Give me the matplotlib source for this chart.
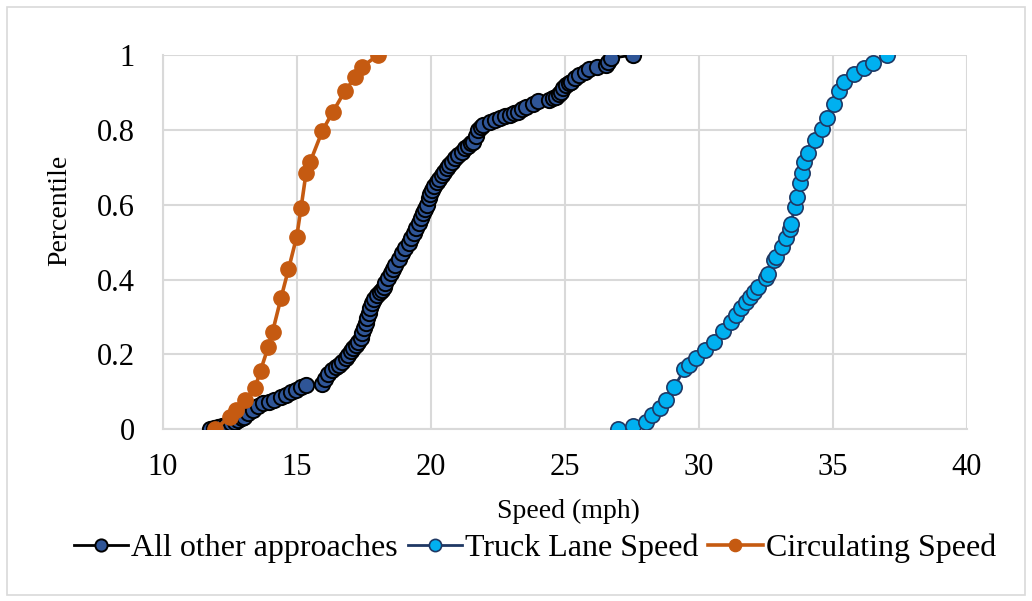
import matplotlib.pyplot as plt
from matplotlib.patches import Rectangle

# speed distributions (mph) and their cumulative percentile
other_speed = [11.76, 11.90, 12.06, 12.20, 12.37, 12.56, 12.70, 12.81, 12.95, 13.05,
               13.20, 13.36, 13.55, 13.73, 13.98, 14.17, 14.42, 14.60, 14.79, 14.97,
               15.16, 15.34, 15.96, 16.05, 16.15, 16.30, 16.45, 16.58, 16.70, 16.83,
               16.92, 17.01, 17.10, 17.20, 17.28, 17.38, 17.45, 17.52, 17.57, 17.63,
               17.69, 17.75, 17.81, 17.90, 18.00, 18.10, 18.19, 18.25, 18.31, 18.40,
               18.50, 18.58, 18.68, 18.80, 18.93, 19.05, 19.18, 19.27, 19.36, 19.45,
               19.55, 19.64, 19.73, 19.80, 19.86, 19.92, 19.98, 20.04, 20.13, 20.23,
               20.32, 20.41, 20.50, 20.60, 20.69, 20.78, 20.90, 21.03, 21.15, 21.28,
               21.40, 21.52, 21.59, 21.68, 21.77, 21.86, 21.96, 22.21, 22.40, 22.58,
               22.76, 22.95, 23.10, 23.26, 23.40, 23.57, 23.80, 24.00, 24.43, 24.55,
               24.68, 24.78, 24.86, 24.95, 25.05, 25.15, 25.24, 25.40, 25.55, 25.75,
               25.92, 26.20, 26.53, 26.62, 26.72, 27.56]
other_pct = [0.000, 0.003, 0.007, 0.009, 0.011, 0.016, 0.020, 0.025, 0.030, 0.034,
             0.043, 0.052, 0.061, 0.069, 0.074, 0.078, 0.087, 0.092, 0.100, 0.105,
             0.114, 0.118, 0.122, 0.135, 0.148, 0.158, 0.166, 0.172, 0.181, 0.190,
             0.199, 0.208, 0.216, 0.225, 0.234, 0.245, 0.256, 0.270, 0.283, 0.297,
             0.310, 0.323, 0.337, 0.348, 0.359, 0.366, 0.372, 0.381, 0.390, 0.404,
             0.417, 0.428, 0.439, 0.455, 0.470, 0.484, 0.497, 0.510, 0.524, 0.537,
             0.550, 0.564, 0.577, 0.588, 0.599, 0.617, 0.628, 0.639, 0.650, 0.661,
             0.670, 0.679, 0.688, 0.697, 0.706, 0.715, 0.724, 0.733, 0.742, 0.751,
             0.758, 0.764, 0.768, 0.784, 0.800, 0.807, 0.813, 0.822, 0.827, 0.831,
             0.836, 0.840, 0.845, 0.849, 0.856, 0.862, 0.870, 0.878, 0.880, 0.884,
             0.889, 0.896, 0.902, 0.911, 0.920, 0.925, 0.929, 0.938, 0.947, 0.955,
             0.962, 0.967, 0.973, 0.982, 0.991, 1.000]

truck_speed = [26.99, 27.53, 28.02, 28.27, 28.55, 28.79, 29.07, 29.47, 29.65, 29.91,
               30.25, 30.58, 30.90, 31.21, 31.40, 31.58, 31.77, 31.92, 32.06, 32.23,
               32.50, 32.57, 32.81, 32.87, 33.09, 33.25, 33.40, 33.44, 33.58, 33.65,
               33.77, 33.86, 33.92, 34.08, 34.35, 34.60, 34.79, 35.05, 35.23, 35.44,
               35.79, 36.18, 36.49, 37.01]
truck_pct = [0.000, 0.009, 0.020, 0.038, 0.058, 0.078, 0.112, 0.160, 0.172, 0.190,
             0.212, 0.232, 0.263, 0.287, 0.305, 0.323, 0.339, 0.354, 0.366, 0.379,
             0.403, 0.414, 0.451, 0.459, 0.488, 0.510, 0.535, 0.548, 0.595, 0.620,
             0.659, 0.686, 0.713, 0.738, 0.773, 0.802, 0.831, 0.868, 0.904, 0.929,
             0.948, 0.964, 0.978, 1.000]

circ_speed = [11.95, 12.51, 12.73, 13.07, 13.44, 13.65, 13.94, 14.10, 14.41, 14.69,
              15.00, 15.16, 15.35, 15.50, 15.96, 16.34, 16.80, 17.18, 17.44, 18.03]
circ_pct = [0.000, 0.034, 0.052, 0.079, 0.110, 0.157, 0.221, 0.261, 0.350, 0.427,
            0.515, 0.591, 0.686, 0.714, 0.798, 0.847, 0.904, 0.940, 0.968, 1.000]

plt.rcParams['font.family'] = ['Liberation Serif', 'DejaVu Serif']

fig = plt.figure(figsize=(10.32, 6.01), dpi=100)
ax = fig.add_axes([0.1577, 0.2857, 0.7790, 0.6228])

# outer chart border
fig.patches.append(Rectangle((0.007, 0.010), 0.986, 0.979, transform=fig.transFigure,
                             fill=False, edgecolor='#D9D9D9', linewidth=1.2))

ax.plot(other_speed, other_pct, color='black', linewidth=2, marker='o', markersize=11,
        markerfacecolor='#2F5597', markeredgecolor='black', markeredgewidth=1.4,
        label='All other approaches', zorder=3)
ax.plot(truck_speed, truck_pct, color='#1F3864', linewidth=2, marker='o', markersize=11,
        markerfacecolor='#00B0F0', markeredgecolor='#1F3864', markeredgewidth=1.2,
        label='Truck Lane Speed', zorder=4)
ax.plot(circ_speed, circ_pct, color='#C55A11', linewidth=2.6, marker='o', markersize=11,
        markerfacecolor='#C55A11', markeredgecolor='#C55A11',
        label='Circulating Speed', zorder=5)

ax.set_xlim(10, 40)
ax.set_ylim(0, 1)
ax.set_xticks(range(10, 41, 5))
ax.set_yticks([0, 0.2, 0.4, 0.6, 0.8, 1])
ax.set_yticklabels(['0', '0.2', '0.4', '0.6', '0.8', '1'])
ax.tick_params(length=0, labelsize=22, colors='black')
ax.tick_params(axis='x', pad=17)
ax.tick_params(axis='y', pad=20)
ax.grid(True, color='#D9D9D9', linewidth=1.5)
ax.set_axisbelow(True)
for side in ['top', 'right']:
    ax.spines[side].set_visible(False)
for side in ['left', 'bottom']:
    ax.spines[side].set_color('#D9D9D9')
    ax.spines[side].set_linewidth(1.5)

ax.set_xlabel('Speed (mph)', fontsize=20)
ax.set_ylabel('Percentile', fontsize=20)
ax.xaxis.set_label_coords(0.505, -0.186)
ax.yaxis.set_label_coords(-0.113, 0.586)

leg = ax.legend(loc='center', bbox_to_anchor=(0.463, -0.318), ncol=3, frameon=False,
                fontsize=23, handlelength=1.7, handletextpad=0.1, columnspacing=0.3,
                borderaxespad=0, markerscale=0.8)

plt.savefig('out.png', dpi=100)
